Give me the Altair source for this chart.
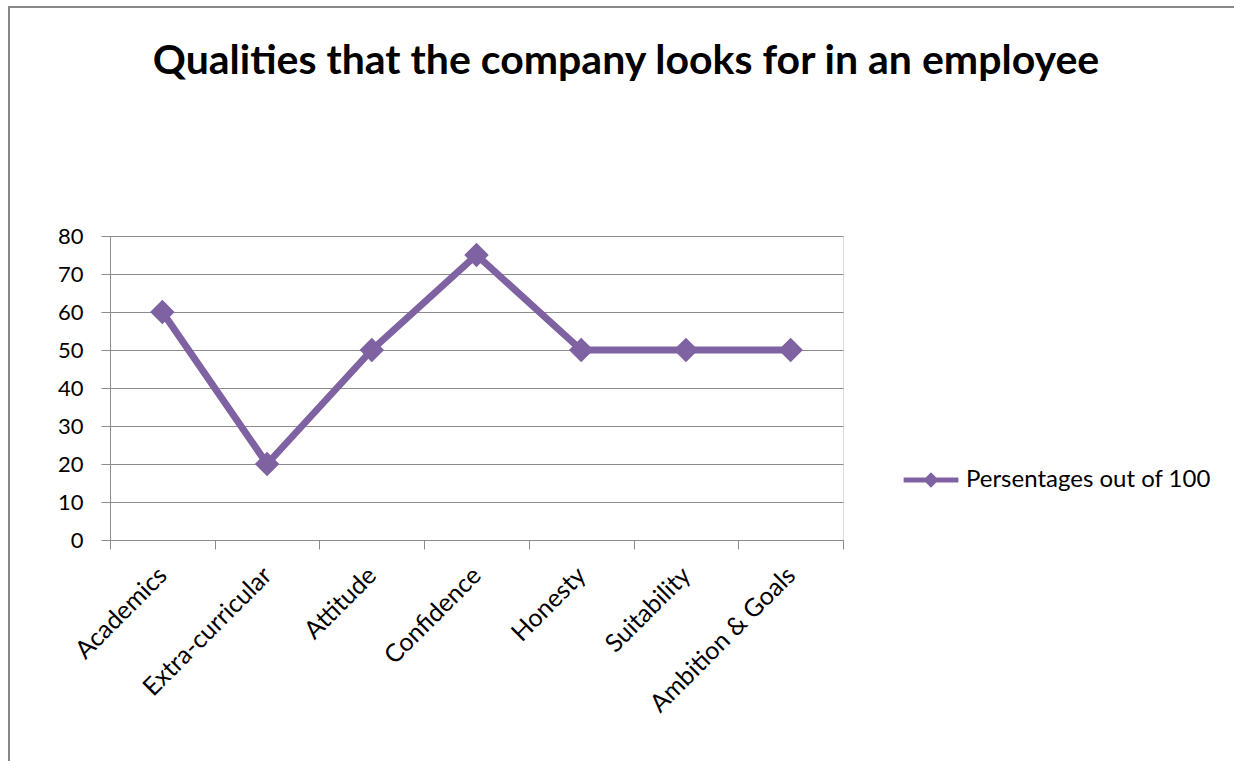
import altair as alt
import pandas as pd

# Qualities rated as a percentage out of 100
qualities = ["Academics", "Extra-curricular", "Attitude", "Confidence",
             "Honesty", "Suitability", "Ambition & Goals"]
scores = [60, 20, 50, 75, 50, 50, 50]
y_ticks = [0, 10, 20, 30, 40, 50, 60, 70, 80]
series_name = "Persentages out of 100"
title_text = "Qualities that the company looks for in an employee"

df = pd.DataFrame({"quality": qualities, "score": scores, "series": series_name})

PURPLE = "#7E62A1"
GRID = "#8C8C8C"
FONT = "Lato"

W, H = 733, 304
PAD_L, PAD_T = 110, 236

x_enc = alt.X("quality:N", sort=qualities, title=None,
              scale=alt.Scale(type="band", paddingInner=0, paddingOuter=0),
              axis=alt.Axis(labelAngle=-45, labelAlign="right", labelBaseline="middle",
                            labelPadding=22, tickSize=9, tickBand="extent",
                            domainColor=GRID, tickColor=GRID, labelFontSize=25,
                            labelColor="#000000", labelFont=FONT, grid=False,
                            labelOverlap=False, labelLimit=0))
y_enc = alt.Y("score:Q", title=None,
              scale=alt.Scale(domain=[0, 80], nice=False),
              axis=alt.Axis(values=y_ticks, tickSize=9, labelPadding=18, labelOverlap=False,
                            domainColor=GRID, tickColor=GRID, gridColor=GRID,
                            labelFontSize=22, labelColor="#000000", labelFont=FONT))

color_enc = alt.Color("series:N", title=None,
                      scale=alt.Scale(range=[PURPLE]),
                      legend=alt.Legend(orient="none", legendX=791, legendY=214,
                                        symbolType="M-1,0L1,0M0,-0.15L0.15,0L0,0.15L-0.15,0Z",
                                        symbolSize=3000, symbolStrokeWidth=5,
                                        symbolFillColor=PURPLE, symbolStrokeColor=PURPLE,
                                        labelFontSize=24, labelFont=FONT, labelColor="#000000",
                                        labelOffset=5, labelLimit=0, padding=0))

line = alt.Chart(df).mark_line(strokeWidth=7, strokeJoin="round").encode(
    x=x_enc, y=y_enc, color=color_enc)

points = alt.Chart(df).mark_point(shape="diamond", filled=True, size=600, opacity=1).encode(
    x=x_enc, y=y_enc, color=color_enc)

# Outer frame around the whole chart
frame = alt.Chart(alt.Data(values=[{}])).mark_rect(
    fill=None, stroke="#878787", strokeWidth=2).encode(
    x=alt.value(9 - PAD_L), y=alt.value(7 - PAD_T),
    x2=alt.value(1260 - PAD_L), y2=alt.value(790 - PAD_T))

# Chart heading, centred across the whole frame
heading = alt.Chart(alt.Data(values=[{"t": title_text}])).mark_text(
    font=FONT, fontSize=41, fontWeight="bold", color="#000000",
    align="center", baseline="middle").encode(
    text="t:N", x=alt.value(626 - PAD_L), y=alt.value(62 - PAD_T))

chart = alt.layer(frame, heading, line, points).properties(
    width=W, height=H,
    padding={"left": PAD_L, "top": PAD_T, "right": 1234 - PAD_L - W, "bottom": 761 - PAD_T - H},
    autosize=alt.AutoSizeParams(type="none"),
).configure_view(stroke=None).configure(background="white")

chart.save("out.html", embed_options={"renderer": "svg", "actions": False})
